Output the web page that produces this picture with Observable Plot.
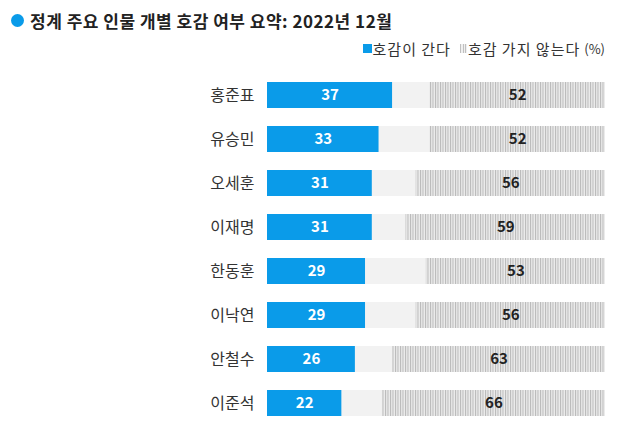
<!DOCTYPE html>
<html>
<head>
<meta charset="utf-8">
<script src="https://cdn.jsdelivr.net/npm/d3@7"></script>
<script src="https://cdn.jsdelivr.net/npm/@observablehq/plot@0.6"></script>
<style>
  body { margin: 0; background: #fff; font-family: "Noto Sans CJK KR", "Noto Sans", sans-serif; width: 630px; }
  #title { position: absolute; left: 11px; top: 8px; font-size: 17px; font-weight: bold; color: #222; display: flex; align-items: center; white-space: nowrap; letter-spacing: 0.5px; }
  #title .dot { width: 13px; height: 13px; border-radius: 50%; background: #0a9be9; margin-right: 6px; display: inline-block; }
  #legend { position: absolute; right: 25px; top: 38px; font-size: 15px; color: #333; display: flex; align-items: center; white-space: nowrap; letter-spacing: 1px; }
  #legend .sw { width: 9px; height: 9px; display: inline-block; margin-right: 1px; }
  #chart { position: absolute; left: 0; top: 60px; }
</style>
</head>
<body>
<div id="title"><span class="dot"></span>정계 주요 인물 개별 호감 여부 요약: 2022년 12월</div>
<div id="legend"><span class="sw" style="background:#0a9be9"></span>호감이 간다<span class="sw" style="margin-left:9px;width:7px;background:repeating-linear-gradient(90deg,#c0c0c0 0 1px,#f0f0f0 1px 2.5px)"></span>호감 가지 않는다 <span style="font-size:13px;margin-left:4px;letter-spacing:0">(%)</span></div>
<div id="chart"></div>
<script>
const names = ["홍준표","유승민","오세훈","이재명","한동훈","이낙연","안철수","이준석"];
const favorable = [37,33,31,31,29,29,26,22];
const unfavorable = [52,52,56,59,53,56,63,66];

const data = names.map((n, i) => ({name: n, fav: favorable[i], unf: unfavorable[i]}));
const blue = "#0a9be9";

const chart = Plot.plot({
  width: 630,
  height: 377,
  marginTop: 2,
  marginBottom: 2,
  marginLeft: 267,
  marginRight: 25,
  style: {fontFamily: "'Noto Sans CJK KR', sans-serif", background: "#fff"},
  x: {domain: [0, 100], axis: null},
  y: {domain: names, padding: 0.42, label: null},
  marks: [
    Plot.axisY({tickSize: 0, tickPadding: 13, fontSize: 16, color: "#333", label: null}),
    Plot.barX(data, {y: "name", x1: 0, x2: 100, fill: "#f2f2f2"}),
    Plot.barX(data, {y: "name", x1: 0, x2: "fav", fill: blue}),
    Plot.barX(data, {y: "name", x1: d => 100 - d.unf, x2: 100, fill: "url(#hatch)"}),
    Plot.text(data, {y: "name", x: d => d.fav / 2, text: d => String(d.fav), fill: "white", fontSize: 15, fontWeight: "bold"}),
    Plot.text(data, {y: "name", x: d => 100 - d.unf / 2, text: d => String(d.unf), fill: "#222", fontSize: 15, fontWeight: "bold"})
  ]
});

const svg = d3.select(chart);
const defs = svg.insert("defs", ":first-child");
const pat = defs.append("pattern").attr("id", "hatch").attr("patternUnits", "userSpaceOnUse")
  .attr("width", 2.5).attr("height", 10);
pat.append("rect").attr("width", 2.5).attr("height", 10).attr("fill", "#ececec");
pat.append("rect").attr("width", 1).attr("height", 10).attr("fill", "#b8b8b8");

document.getElementById("chart").appendChild(chart);
</script>
</body>
</html>
